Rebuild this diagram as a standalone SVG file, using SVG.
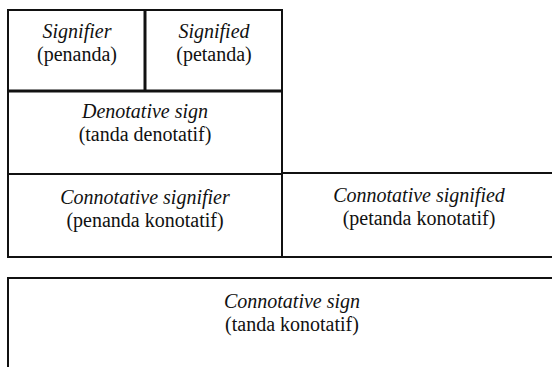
<svg xmlns="http://www.w3.org/2000/svg" width="552" height="367" viewBox="0 0 552 367" font-family="Liberation Serif, Times New Roman, serif" font-size="20">
  <style>
    .box { fill: #ffffff; stroke: #111111; stroke-width: 2; }
    .thick { stroke: #111111; stroke-width: 3; fill: none; }
    text { fill: #111111; text-anchor: middle; }
    .i { font-style: italic; }
  </style>
  <rect width="552" height="367" fill="#ffffff"/>
  <g id="connotative-sign">
    <rect class="box" x="8" y="278" width="570" height="110"/>
    <text class="i" x="292" y="308">Connotative sign</text>
    <text x="292" y="331">(tanda konotatif)</text>
  </g>
  <g id="connotative-signified">
    <rect class="box" x="282" y="173" width="280" height="84"/>
    <text class="i" x="419" y="202">Connotative signified</text>
    <text x="419" y="225">(petanda konotatif)</text>
  </g>
  <g id="connotative-signifier">
    <rect class="box" x="8" y="174" width="274" height="83"/>
    <text class="i" x="145" y="204">Connotative signifier</text>
    <text x="145" y="227">(penanda konotatif)</text>
  </g>
  <g id="denotative-sign">
    <rect class="box" x="8" y="91" width="274" height="83"/>
    <text class="i" x="145" y="118">Denotative sign</text>
    <text x="145" y="141">(tanda denotatif)</text>
  </g>
  <g id="signifier">
    <rect class="box" x="8" y="10" width="137" height="81"/>
    <text class="i" x="77" y="38">Signifier</text>
    <text x="77" y="61">(penanda)</text>
  </g>
  <g id="signified">
    <rect class="box" x="145" y="10" width="137" height="81"/>
    <text class="i" x="214" y="38">Signified</text>
    <text x="214" y="61">(petanda)</text>
  </g>
  <g id="connectors">
    <line class="thick" x1="145" y1="10" x2="145" y2="91"/>
    <line class="thick" x1="8" y1="91" x2="282" y2="91"/>
  </g>
</svg>
